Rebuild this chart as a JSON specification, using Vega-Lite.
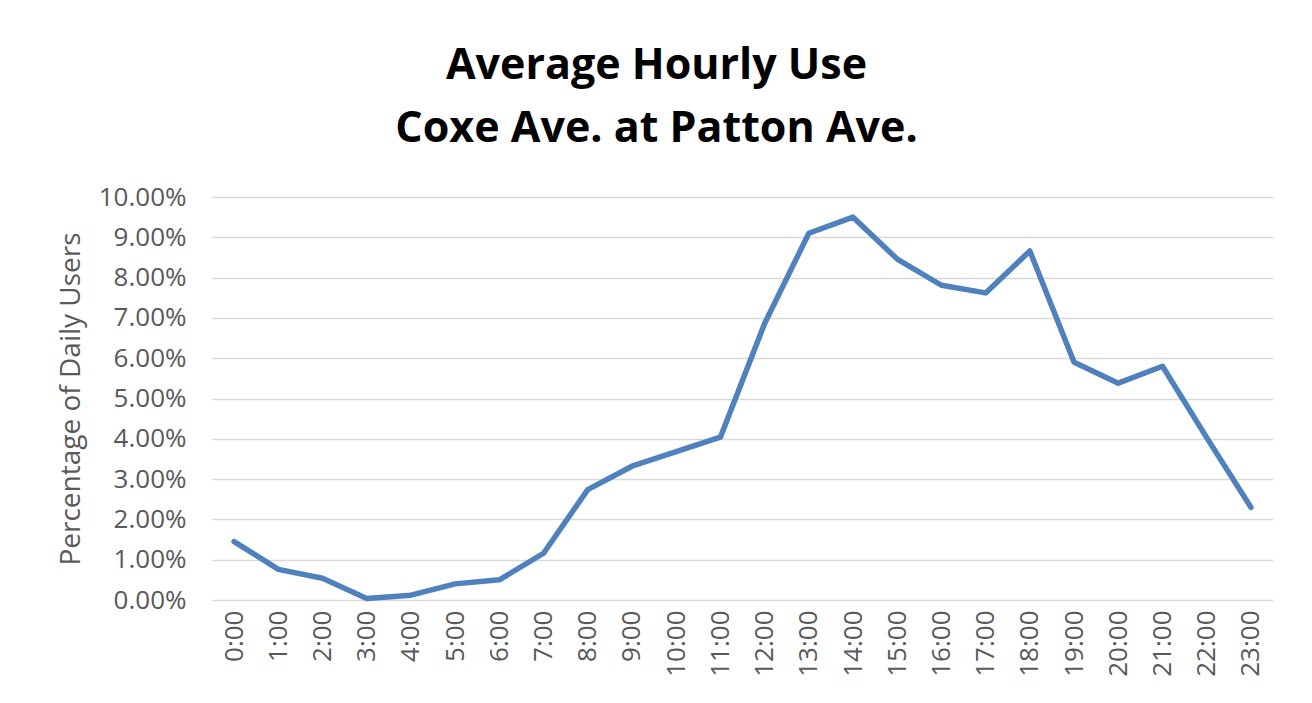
{
  "$schema": "https://vega.github.io/schema/vega-lite/v6.json",
  "width": 1061,
  "height": 403,
  "autosize": {"type": "none"},
  "padding": {"left": 212, "top": 197, "right": 39, "bottom": 103},
  "background": "white",
  "title": {
    "text": ["Average Hourly Use", "Coxe Ave. at Patton Ave."],
    "font": "Open Sans",
    "fontSize": 43,
    "fontWeight": "bold",
    "color": "black",
    "anchor": "middle",
    "frame": "group",
    "dx": -86,
    "offset": 33,
    "lineHeight": 63
  },
  "data": {
    "values": [
      {"hour": "0:00", "pct": 0.0145},
      {"hour": "1:00", "pct": 0.0076},
      {"hour": "2:00", "pct": 0.0054},
      {"hour": "3:00", "pct": 0.0004},
      {"hour": "4:00", "pct": 0.0012},
      {"hour": "5:00", "pct": 0.0040},
      {"hour": "6:00", "pct": 0.0050},
      {"hour": "7:00", "pct": 0.0116},
      {"hour": "8:00", "pct": 0.0274},
      {"hour": "9:00", "pct": 0.0332},
      {"hour": "10:00", "pct": 0.0368},
      {"hour": "11:00", "pct": 0.0404},
      {"hour": "12:00", "pct": 0.0686},
      {"hour": "13:00", "pct": 0.0910},
      {"hour": "14:00", "pct": 0.0950},
      {"hour": "15:00", "pct": 0.0846},
      {"hour": "16:00", "pct": 0.0781},
      {"hour": "17:00", "pct": 0.0762},
      {"hour": "18:00", "pct": 0.0866},
      {"hour": "19:00", "pct": 0.0590},
      {"hour": "20:00", "pct": 0.0538},
      {"hour": "21:00", "pct": 0.0580},
      {"hour": "22:00", "pct": 0.0403},
      {"hour": "23:00", "pct": 0.0230}
    ]
  },
  "mark": {"type": "line", "color": "#4f81bd", "strokeWidth": 5.5, "strokeCap": "round", "strokeJoin": "round"},
  "encoding": {
    "x": {
      "field": "hour",
      "type": "ordinal",
      "sort": null,
      "scale": {"type": "point", "padding": 0.5},
      "axis": {
        "title": null,
        "labelAngle": -90,
        "labelAlign": "right",
        "labelBaseline": "middle",
        "labelFont": "Open Sans",
        "labelFontSize": 26,
        "labelColor": "#595959",
        "labelPadding": 10,
        "domain": false,
        "ticks": false,
        "grid": false
      }
    },
    "y": {
      "field": "pct",
      "type": "quantitative",
      "scale": {"domain": [0, 0.1]},
      "axis": {
        "title": "Percentage of Daily Users",
        "values": [0, 0.01, 0.02, 0.03, 0.04, 0.05, 0.06, 0.07, 0.08, 0.09, 0.1],
        "format": ".2%",
        "labelFont": "Open Sans",
        "labelFontSize": 26,
        "labelColor": "#595959",
        "labelPadding": 26,
        "titleFont": "Open Sans",
        "titleFontSize": 28,
        "titleFontWeight": "normal",
        "titleColor": "#595959",
        "titlePadding": 13,
        "domain": false,
        "ticks": false,
        "grid": true,
        "gridColor": "#d9d9d9",
        "gridWidth": 1.5
      }
    }
  },
  "config": {"view": {"stroke": null}}
}
